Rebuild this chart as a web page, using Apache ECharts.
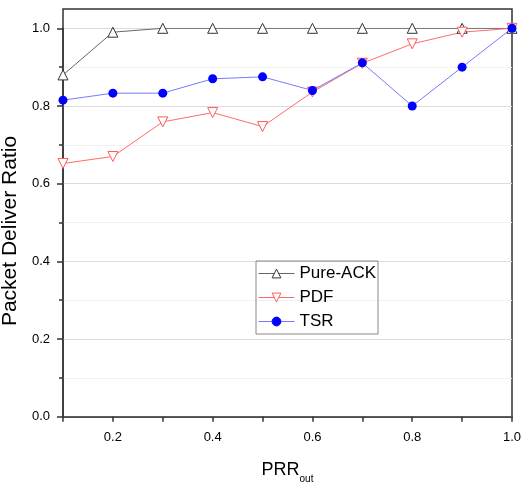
<!DOCTYPE html>
<html>
<head>
<meta charset="utf-8">
<script src="https://cdn.jsdelivr.net/npm/echarts@6/dist/echarts.min.js"></script>
<style>
  html, body { margin: 0; padding: 0; background: #fff; }
  #chart { width: 530px; height: 485px; }
</style>
</head>
<body>
<div id="chart"></div>
<script>
// PRR_out values on the x axis
let prrOut = [0.1, 0.2, 0.3, 0.4, 0.5, 0.6, 0.7, 0.8, 0.9, 1.0];
let pureAck = [0.88, 0.99, 1.0, 1.0, 1.0, 1.0, 1.0, 1.0, 1.0, 1.0];
let pdf = [0.652, 0.67, 0.759, 0.783, 0.747, 0.836, 0.91, 0.96, 0.99, 1.0];
let tsr = [0.815, 0.833, 0.833, 0.87, 0.875, 0.84, 0.911, 0.80, 0.90, 1.0];

let fontName = 'Liberation Sans, Arial, sans-serif';

function pairs(ys) {
    return ys.map(function (y, i) {
        return [prrOut[i], y];
    });
}

let chart = echarts.init(document.getElementById('chart'));
let option = {
    backgroundColor: '#fff',
    animation: false,
    textStyle: { fontFamily: fontName },
    grid: [
        // plotting area (0 .. 1.0)
        { left: 63, right: 18, top: 28.3, bottom: 68.3, outerBoundsMode: 'none', containLabel: false },
        // outer frame, a bit taller than 1.0
        { left: 63, right: 18, top: 9, bottom: 68.3, outerBoundsMode: 'none', containLabel: false, show: true, borderColor: '#333', borderWidth: 1.5, backgroundColor: 'transparent' }
    ],
    legend: {
        orient: 'vertical',
        left: 256,
        top: 261,
        itemWidth: 36,
        itemHeight: 11,
        itemGap: 7,
        padding: [4, 2, 4, 2],
        borderColor: '#888',
        borderWidth: 1,
        itemStyle: { borderWidth: 1 },
        lineStyle: { width: 1 },
        textStyle: { fontSize: 17, color: '#000', fontFamily: fontName },
        data: ['Pure-ACK', 'PDF', 'TSR']
    },
    xAxis: [
        {
            type: 'value',
            gridIndex: 0,
            min: 0.1,
            max: 1.0,
            interval: 0.1,
            name: '{a|PRR}{b|out}',
            nameLocation: 'middle',
            nameGap: 38,
            nameTextStyle: {
                rich: {
                    a: { fontSize: 18, color: '#000', fontFamily: fontName, lineHeight: 30, verticalAlign: 'middle' },
                    b: { fontSize: 10, color: '#000', fontFamily: fontName, lineHeight: 30, verticalAlign: 'bottom' }
                }
            },
            axisLine: { show: true, lineStyle: { color: '#333', width: 1.5 } },
            axisTick: { show: true, inside: false, length: 5, lineStyle: { color: '#333', width: 1.5 } },
            axisLabel: {
                color: '#000',
                fontSize: 13,
                margin: 14,
                formatter: function (v) {
                    return Math.round(v * 10) % 2 === 0 ? v.toFixed(1) : '';
                }
            },
            splitLine: { show: false }
        },
        { type: 'value', gridIndex: 1, min: 0, max: 1, show: false }
    ],
    yAxis: [
        {
            type: 'value',
            gridIndex: 0,
            min: 0,
            max: 1.0,
            interval: 0.2,
            name: 'Packet Deliver Ratio',
            nameLocation: 'middle',
            nameGap: 35,
            nameTextStyle: { fontSize: 21, color: '#000', fontFamily: fontName, padding: [0, 17, 0, 0] },
            axisLine: { show: true, lineStyle: { color: '#333', width: 1.5 } },
            axisTick: { show: true, length: 6, lineStyle: { color: '#333', width: 1.5 } },
            minorTick: { show: true, splitNumber: 2, length: 4, lineStyle: { color: '#333', width: 1.5 } },
            axisLabel: {
                color: '#000',
                fontSize: 13,
                margin: 13,
                formatter: function (v) { return v.toFixed(1); }
            },
            splitLine: { show: true, lineStyle: { color: '#dcdcdc', width: 1 } },
            minorSplitLine: { show: true, lineStyle: { color: '#e6e6e6', width: 1, type: 'dotted' } }
        },
        { type: 'value', gridIndex: 1, min: 0, max: 1, show: false }
    ],
    series: [
        {
            name: 'Pure-ACK',
            type: 'line',
            xAxisIndex: 0,
            yAxisIndex: 0,
            data: pairs(pureAck),
            symbol: 'triangle',
            symbolSize: 10,
            lineStyle: { color: '#666', width: 1 },
            itemStyle: { color: '#fff', borderColor: '#333', borderWidth: 1 }
        },
        {
            name: 'PDF',
            type: 'line',
            xAxisIndex: 0,
            yAxisIndex: 0,
            data: pairs(pdf),
            symbol: 'triangle',
            symbolRotate: 180,
            symbolSize: 10,
            lineStyle: { color: '#ff6b6b', width: 1 },
            itemStyle: { color: '#fff', borderColor: '#ff5a5a', borderWidth: 1 }
        },
        {
            name: 'TSR',
            type: 'line',
            xAxisIndex: 0,
            yAxisIndex: 0,
            data: pairs(tsr),
            symbol: 'circle',
            symbolSize: 9,
            lineStyle: { color: '#7878ff', width: 1 },
            itemStyle: { color: '#0000ff', borderColor: '#0000ff', borderWidth: 0 }
        }
    ]
};
chart.setOption(option);
</script>
</body>
</html>
